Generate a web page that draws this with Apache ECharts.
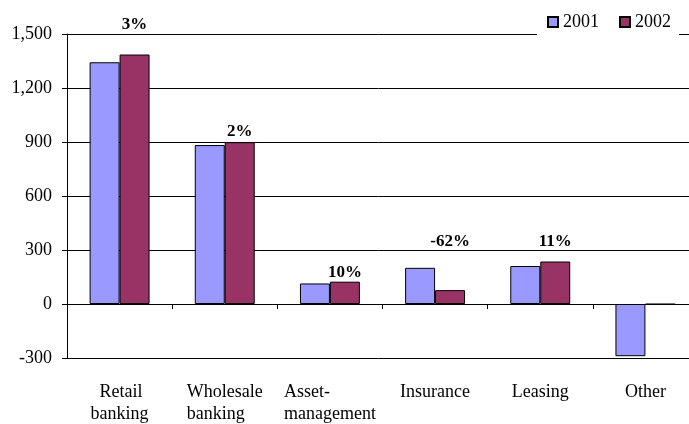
<!DOCTYPE html>
<html>
<head>
<meta charset="utf-8">
<script src="https://cdn.jsdelivr.net/npm/echarts@6/dist/echarts.min.js"></script>
<style>
  html, body { margin: 0; padding: 0; background: #fff; }
  #chart { width: 689px; height: 424px; }
</style>
</head>
<body>
<div id="chart"></div>
<script>
const categories = ['  Retail\nbanking', 'Wholesale\nbanking', 'Asset-\nmanagement', 'Insurance', 'Leasing', 'Other']
const values2001 = [1343, 883, 114, 201, 211, -290]
const values2002 = [1386, 899, 124, 77, 236, -2]
const changeLabels = ['3%', '2%', '10%', '-62%', '11%', '']
const yTicks = [-300, 0, 300, 600, 900, 1200, 1500]

// how far each change label floats above its 2002 bar (px)
const labelLift = [21, 2, 1, 40, 11, 0]

const font = '"Liberation Serif", "Times New Roman", serif'

const chart = echarts.init(document.getElementById('chart'))
chart.setOption({
  backgroundColor: '#fff',
  animation: false,
  grid: { left: 67, top: 34, right: -9, bottom: 66, containLabel: false, outerBoundsMode: 'none' },
  legend: {
    right: 10,
    top: 8,
    padding: [5, 8, 8, 10],
    itemGap: 20,
    itemWidth: 10,
    itemHeight: 10,
    backgroundColor: '#fff',
    icon: 'rect',
    textStyle: { fontFamily: font, fontSize: 18, color: '#000', padding: [8, 0, 0, 0] },
    data: ['2001', '2002']
  },
  xAxis: [
    {
      // labels sit below the plot, like Excel's "low" label position
      type: 'category',
      data: categories,
      position: 'bottom',
      axisLine: { show: false, onZero: false },
      axisTick: { show: false },
      axisLabel: {
        margin: 23, interval: 0,
        formatter: v => v.split('\n').map(s => '{a|' + s + '}').join('\n'),
        rich: { a: { fontFamily: font, fontSize: 18, color: '#000', lineHeight: 22, align: 'left' } }
      },
      splitLine: { show: false }
    },
    {
      // the zero line with its category ticks
      type: 'category',
      data: categories,
      position: 'bottom',
      axisLine: { show: true, onZero: true, lineStyle: { color: '#000', width: 1 } },
      axisTick: { show: true, length: 5, lineStyle: { color: '#000' } },
      axisLabel: { show: false },
      splitLine: { show: false }
    }
  ],
  yAxis: {
    type: 'value',
    min: yTicks[0],
    max: yTicks[yTicks.length - 1],
    interval: 300,
    axisLine: { show: true, lineStyle: { color: '#000', width: 1 } },
    axisTick: { show: true, length: 5, lineStyle: { color: '#000' } },
    axisLabel: {
      fontFamily: font, fontSize: 18, color: '#000', margin: 15,
      formatter: v => v.toLocaleString('en-US')
    },
    splitLine: { show: true, lineStyle: { color: '#000', width: 1 } }
  },
  series: [
    {
      name: '2001',
      type: 'bar',
      data: values2001,
      barWidth: '28.5%',
      barGap: '0%',
      itemStyle: { color: '#9999FF', borderColor: '#000', borderWidth: 1 }
    },
    {
      name: '2002',
      type: 'bar',
      data: values2002.map((v, i) => ({
        value: v,
        label: {
          show: changeLabels[i] !== '',
          position: 'top',
          distance: labelLift[i],
          formatter: changeLabels[i]
        }
      })),
      barWidth: '28.5%',
      itemStyle: { color: '#993366', borderColor: '#000', borderWidth: 1 },
      label: { fontFamily: font, fontSize: 17, fontWeight: 'bold', color: '#000' }
    }
  ]
})
</script>
</body>
</html>
